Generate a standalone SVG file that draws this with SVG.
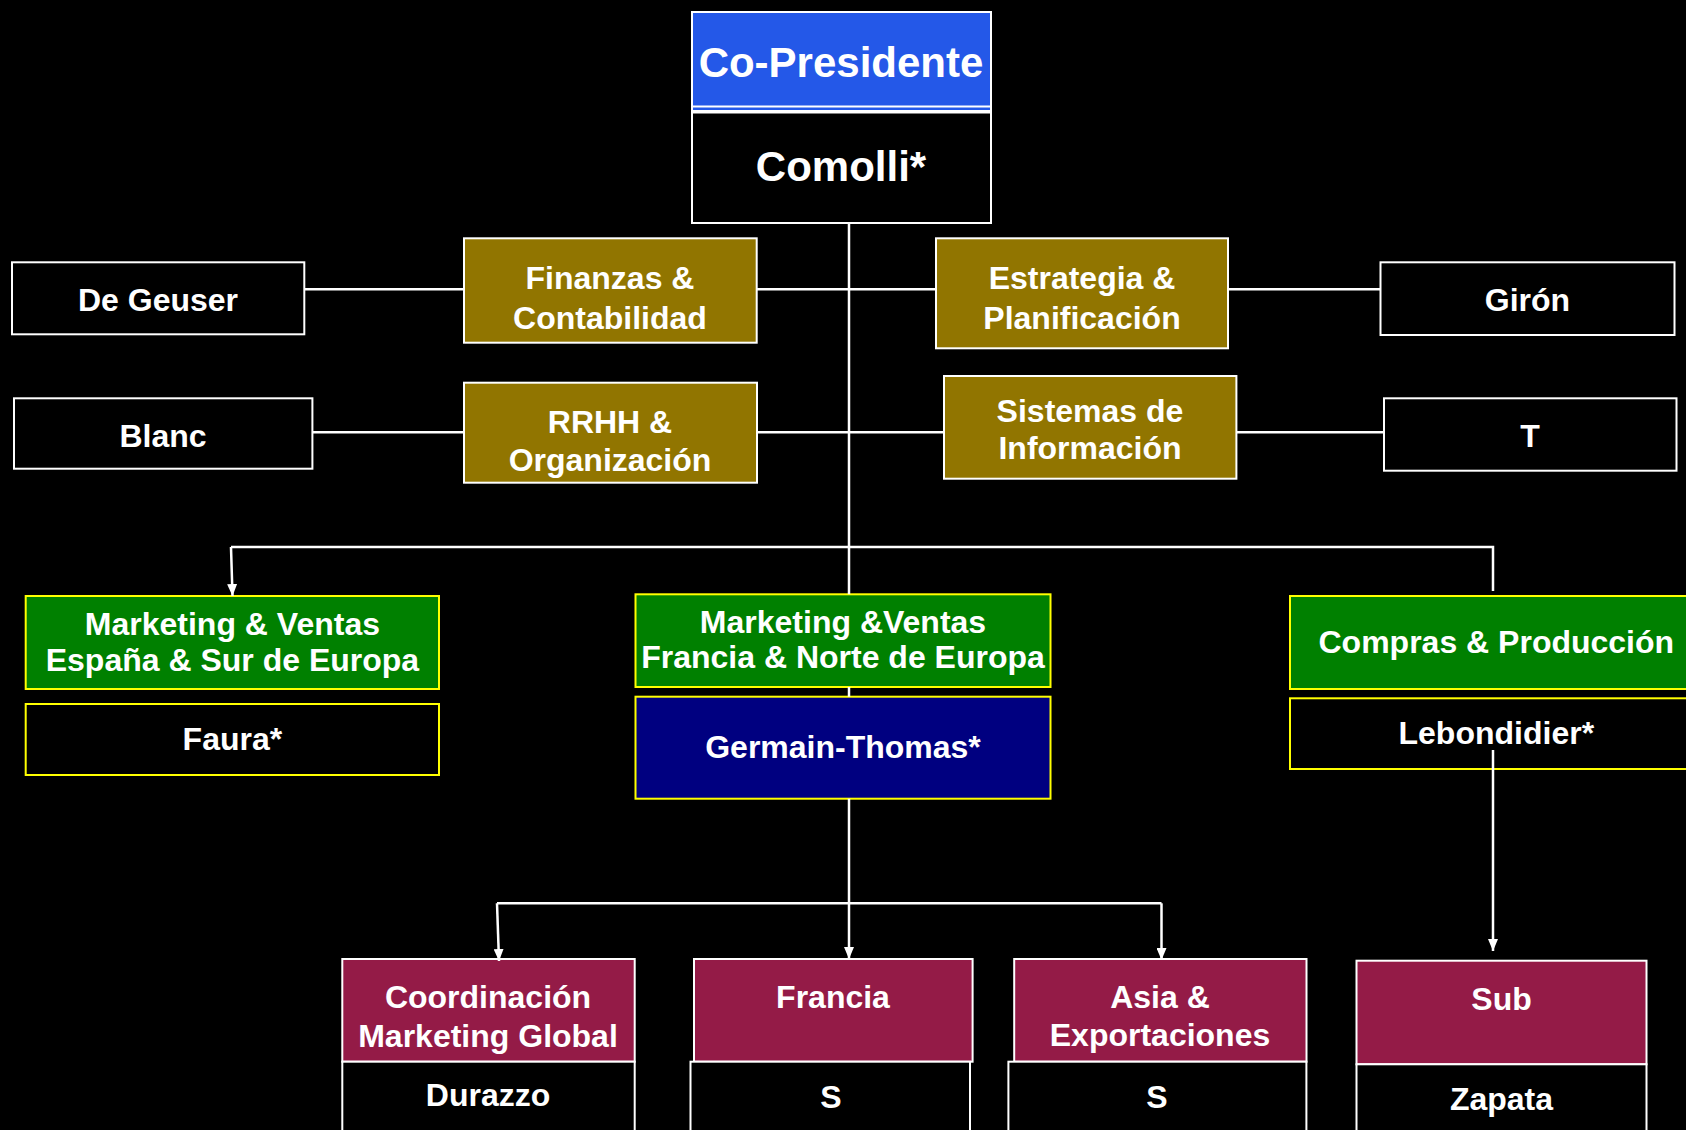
<svg xmlns="http://www.w3.org/2000/svg" width="1686" height="1130" viewBox="0 0 1686 1130">
<style>
text{font-family:"Liberation Sans",Arial,sans-serif;font-weight:bold;fill:#fff;text-anchor:middle;font-size:32px}
.big{font-size:42px}
.w{stroke:#fff;stroke-width:2}
.y{stroke:#ffff00;stroke-width:2}
.blk{fill:#000}
.olive{fill:#917500}
.green{fill:#008000}
.navy{fill:#000080}
.crim{fill:#941b47}
.blue{fill:#2458e8}
.c{stroke:#fff;fill:none;stroke-width:2.5}
</style>
<defs>
<marker id="ah" viewBox="0 0 12 10" refX="12" refY="5" markerWidth="12" markerHeight="10" markerUnits="userSpaceOnUse" orient="auto">
<path d="M0,0 L12,5 L0,10 z" fill="#fff"/>
</marker>
</defs>
<rect width="1686" height="1130" fill="#000"/>
<g id="copresidente">
<rect x="692" y="12" width="299" height="99" class="blue w"/>
<line x1="692" y1="106.5" x2="991" y2="106.5" stroke="#fff" stroke-width="2"/>
<text x="841" y="77" class="big">Co-Presidente</text>
</g>
<g id="comolli">
<rect x="692" y="112.5" width="299" height="110.5" class="blk w"/>
<text x="841" y="181" class="big">Comolli*</text>
</g>
<g id="degeuser">
<rect x="12" y="262.3" width="292.3" height="72" class="blk w"/>
<text x="158" y="311">De Geuser</text>
</g>
<g id="finanzas">
<rect x="464" y="238.3" width="292.7" height="104.4" class="olive w"/>
<text x="610" y="288.7">Finanzas &amp;</text>
<text x="610" y="329">Contabilidad</text>
</g>
<g id="estrategia">
<rect x="936" y="238.3" width="292" height="110" class="olive w"/>
<text x="1082" y="288.7">Estrategia &amp;</text>
<text x="1082" y="329">Planificación</text>
</g>
<g id="giron">
<rect x="1380.5" y="262.3" width="294" height="72.7" class="blk w"/>
<text x="1527.5" y="311">Girón</text>
</g>
<g id="blanc">
<rect x="14" y="398.3" width="298.4" height="70.4" class="blk w"/>
<text x="163" y="447">Blanc</text>
</g>
<g id="rrhh">
<rect x="464" y="382.7" width="293" height="100" class="olive w"/>
<text x="610" y="433">RRHH &amp;</text>
<text x="610" y="470.5">Organización</text>
</g>
<g id="sistemas">
<rect x="944" y="376" width="292.4" height="102.7" class="olive w"/>
<text x="1090" y="421.5">Sistemas de</text>
<text x="1090" y="458.5">Información</text>
</g>
<g id="t">
<rect x="1384" y="398.3" width="292.5" height="72.4" class="blk w"/>
<text x="1530" y="447">T</text>
</g>
<g id="mkt-espana">
<rect x="25.7" y="596" width="413.3" height="93" class="green y"/>
<text x="232.4" y="635">Marketing &amp; Ventas</text>
<text x="232.4" y="670.7">España &amp; Sur de Europa</text>
</g>
<g id="faura">
<rect x="25.7" y="704" width="413.3" height="71" class="blk y"/>
<text x="232.4" y="750">Faura*</text>
</g>
<g id="mkt-francia">
<rect x="635.5" y="594.3" width="415" height="92.7" class="green y"/>
<text x="843" y="632.7">Marketing &amp;Ventas</text>
<text x="843" y="668.3">Francia &amp; Norte de Europa</text>
</g>
<g id="germain">
<rect x="635.5" y="696.7" width="415" height="102" class="navy y"/>
<text x="843" y="758.3">Germain-Thomas*</text>
</g>
<g id="compras">
<rect x="1290" y="596" width="420" height="93" class="green y"/>
<text x="1496.3" y="652.7">Compras &amp; Producción</text>
</g>
<g id="lebondidier">
<rect x="1290" y="698.3" width="420" height="70.7" class="blk y"/>
<text x="1496.3" y="744">Lebondidier*</text>
</g>
<g id="coordinacion">
<rect x="342.3" y="959" width="292.4" height="102.7" class="crim w"/>
<text x="488" y="1008.3">Coordinación</text>
<text x="488" y="1046.7">Marketing Global</text>
</g>
<g id="durazzo">
<rect x="342.3" y="1061.7" width="292.4" height="100" class="blk w"/>
<text x="488" y="1106">Durazzo</text>
</g>
<g id="francia">
<rect x="694" y="959" width="278.6" height="102.7" class="crim w"/>
<text x="833" y="1008.3">Francia</text>
</g>
<g id="s-francia">
<rect x="690.5" y="1061.7" width="279.5" height="100" class="blk w"/>
<text x="831" y="1107.5">S</text>
</g>
<g id="asia">
<rect x="1014.2" y="959" width="292.3" height="102.7" class="crim w"/>
<text x="1160" y="1008.3">Asia &amp;</text>
<text x="1160" y="1045.7">Exportaciones</text>
</g>
<g id="s-asia">
<rect x="1008.4" y="1061.7" width="298" height="100" class="blk w"/>
<text x="1157" y="1107.5">S</text>
</g>
<g id="sub">
<rect x="1356.5" y="960.7" width="290" height="103.6" class="crim w"/>
<text x="1501.5" y="1010">Sub</text>
</g>
<g id="zapata">
<rect x="1356.5" y="1064.3" width="290" height="100" class="blk w"/>
<text x="1501.5" y="1110">Zapata</text>
</g>
<g id="connectors">
<path class="c" d="M849,223 V594.3"/>
<path class="c" d="M849,687 V696.7"/>
<path class="c" d="M849,798.7 V959" marker-end="url(#ah)"/>
<path class="c" stroke-width="3" d="M304.3,289.3 H464 M756.7,289.3 H936 M1228,289.3 H1380.5"/>
<path class="c" stroke-width="2" d="M312.4,432.3 H464 M757,432.3 H944 M1236.4,432.3 H1384"/>
<path class="c" stroke-width="2" d="M231,547 H1493 V591"/>
<path class="c" stroke-width="2" d="M231,547 L232.5,596" marker-end="url(#ah)"/>
<path class="c" stroke-width="3" d="M497,903.3 H1161.5"/>
<path class="c" d="M497,903.3 L499,961" marker-end="url(#ah)"/>
<path class="c" d="M1161.5,903.3 V960" marker-end="url(#ah)"/>
<path class="c" d="M1493,750 V951" marker-end="url(#ah)"/>
</g>
</svg>
